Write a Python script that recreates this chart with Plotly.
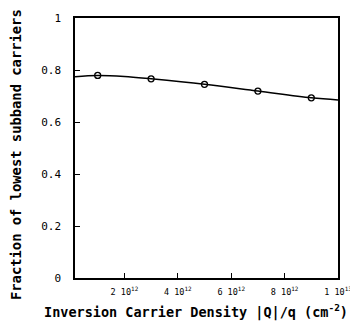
import plotly.graph_objects as go

# Data
marker_x = [1e12, 3e12, 5e12, 7e12, 9e12]
marker_y = [0.779, 0.766, 0.745, 0.719, 0.693]
curve_x = [0.15e12, 1e12, 2e12, 3e12, 5e12, 7e12, 9e12, 1e13]
curve_y = [0.774, 0.779, 0.775, 0.766, 0.745, 0.719, 0.693, 0.685]

x_tickvals = [2e12, 4e12, 6e12, 8e12, 1e13]
x_ticktext = ["2 10<sup>12</sup>", "4 10<sup>12</sup>", "6 10<sup>12</sup>",
              "8 10<sup>12</sup>", "1 10<sup>13</sup>"]
y_tickvals = [0, 0.2, 0.4, 0.6, 0.8, 1]
y_ticktext = ["0", "0.2", "0.4", "0.6", "0.8", "1"]

x_title = "<b>Inversion Carrier Density |Q|/q (cm<sup>-2</sup>)</b>"
y_title = "<b>Fraction of lowest subband carriers</b>"

FONT = "DejaVu Sans Mono"

fig = go.Figure()
fig.add_trace(go.Scatter(x=curve_x, y=curve_y, mode="lines",
                         line=dict(color="black", width=1.5, shape="spline"),
                         hoverinfo="skip", showlegend=False))
fig.add_trace(go.Scatter(x=marker_x, y=marker_y, mode="markers",
                         marker=dict(symbol="circle-open", size=6, color="black",
                                     line=dict(width=1.3, color="black")),
                         showlegend=False))

# page body has an 8px margin, so the figure is 8px smaller and offset
fig.update_layout(
    width=350, height=318,
    margin=dict(l=67, r=20, t=10, b=48, autoexpand=False),
    paper_bgcolor="white", plot_bgcolor="white",
    font=dict(family=FONT, color="black"),
)
fig.update_xaxes(
    range=[0.15e12, 1e13], showgrid=False, zeroline=False, automargin=False,
    showline=True, linecolor="black", linewidth=1.5, mirror=True,
    ticks="inside", ticklen=5, tickcolor="black",
    tickvals=x_tickvals, ticktext=x_ticktext, ticklabelstandoff=5,
    tickfont=dict(size=8.5, family=FONT),
)
fig.update_yaxes(
    range=[0, 1], showgrid=False, zeroline=False, automargin=False,
    showline=True, linecolor="black", linewidth=1.5, mirror=True,
    ticks="inside", ticklen=5, tickcolor="black",
    tickvals=y_tickvals, ticktext=y_ticktext, ticklabelstandoff=10,
    tickfont=dict(size=11, family=FONT),
)
fig.add_annotation(text=x_title, xref="paper", yref="paper",
                   x=(196 - 75) / 263, y=(278 - 311) / 260,
                   xanchor="center", yanchor="middle", showarrow=False,
                   font=dict(size=13.5, family=FONT, color="black"))
fig.add_annotation(text=y_title, xref="paper", yref="paper",
                   x=(16 - 75) / 263, y=(278 - 155) / 260,
                   xanchor="center", yanchor="middle", showarrow=False,
                   textangle=-90,
                   font=dict(size=13.8, family=FONT, color="black"))

fig.write_html("out.html")
